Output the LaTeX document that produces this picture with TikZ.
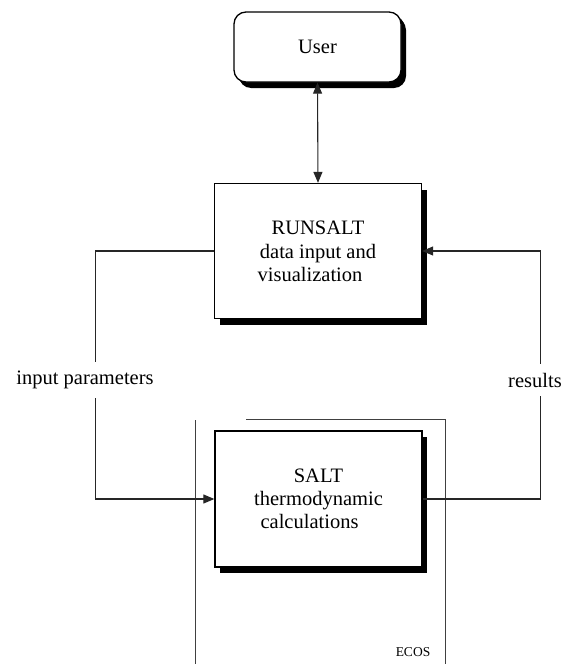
\documentclass[tikz,border=0pt]{standalone}
\usepackage{fontspec}
\setmainfont{Liberation Serif}
\usetikzlibrary{arrows.meta,shadows}
\tikzset{
  boxsh/.style={draw=black, line width=1.3pt, fill=white, align=center,
    drop shadow={shadow xshift=5pt, shadow yshift=-6pt, fill=black, opacity=1}},
  mainbox/.style={boxsh, minimum width=207pt, minimum height=135pt, inner sep=0pt,
    font=\fontsize{20.5}{23}\selectfont},
  conn/.style={line width=1.1pt, draw=black!85},
  tip/.style={-{Triangle[length=11pt,width=9pt]}},
  lbl/.style={fill=white, inner xsep=2pt, inner ysep=9pt, font=\fontsize{20.5}{23}\selectfont},
  frame/.style={line width=0.9pt, draw=black!75}
}
\begin{document}
\begin{tikzpicture}[x=1pt,y=-1pt]
\useasboundingbox (0,0) rectangle (570,664);
% ECOS frame
\draw[frame] (195,420) -- (195,664);
\draw[frame] (246,419) -- (445,419) -- (445,664);
\node[font=\fontsize{13.5}{15}\selectfont] (ecos) at (413,652) {ECOS};
% nodes
\node[boxsh, rounded corners=12pt, minimum width=167pt, minimum height=70pt,
      drop shadow={shadow xshift=4pt, shadow yshift=-4pt, fill=black, opacity=1},
      font=\fontsize{20.5}{23}\selectfont] (user) at (317.5,47) {User};
\node[mainbox] (runsalt) at (318,251) {RUNSALT\\[1pt]data input and\hspace*{20pt}\\visualization\hspace*{16pt}};
\node[mainbox, minimum height=136pt] (salt) at (318.5,499) {SALT\\thermodynamic\hspace*{20pt}\\calculations\hspace*{18pt}};
% connectors
\draw[conn, {Triangle[length=11pt,width=9pt]}-{Triangle[length=11pt,width=9pt]}] (user.south) -- (runsalt.north);
\draw[conn, tip] (runsalt.west) -- ++(-118,0) coordinate (lc) |- (salt.west);
\draw[conn, tip] (salt.east) -- ++(118,0) coordinate (rc) |- (runsalt.east);
\node[lbl] (inp) at (85,380) {input parameters};
\node[lbl] (res) at (535,380) {results};
\end{tikzpicture}
\end{document}
